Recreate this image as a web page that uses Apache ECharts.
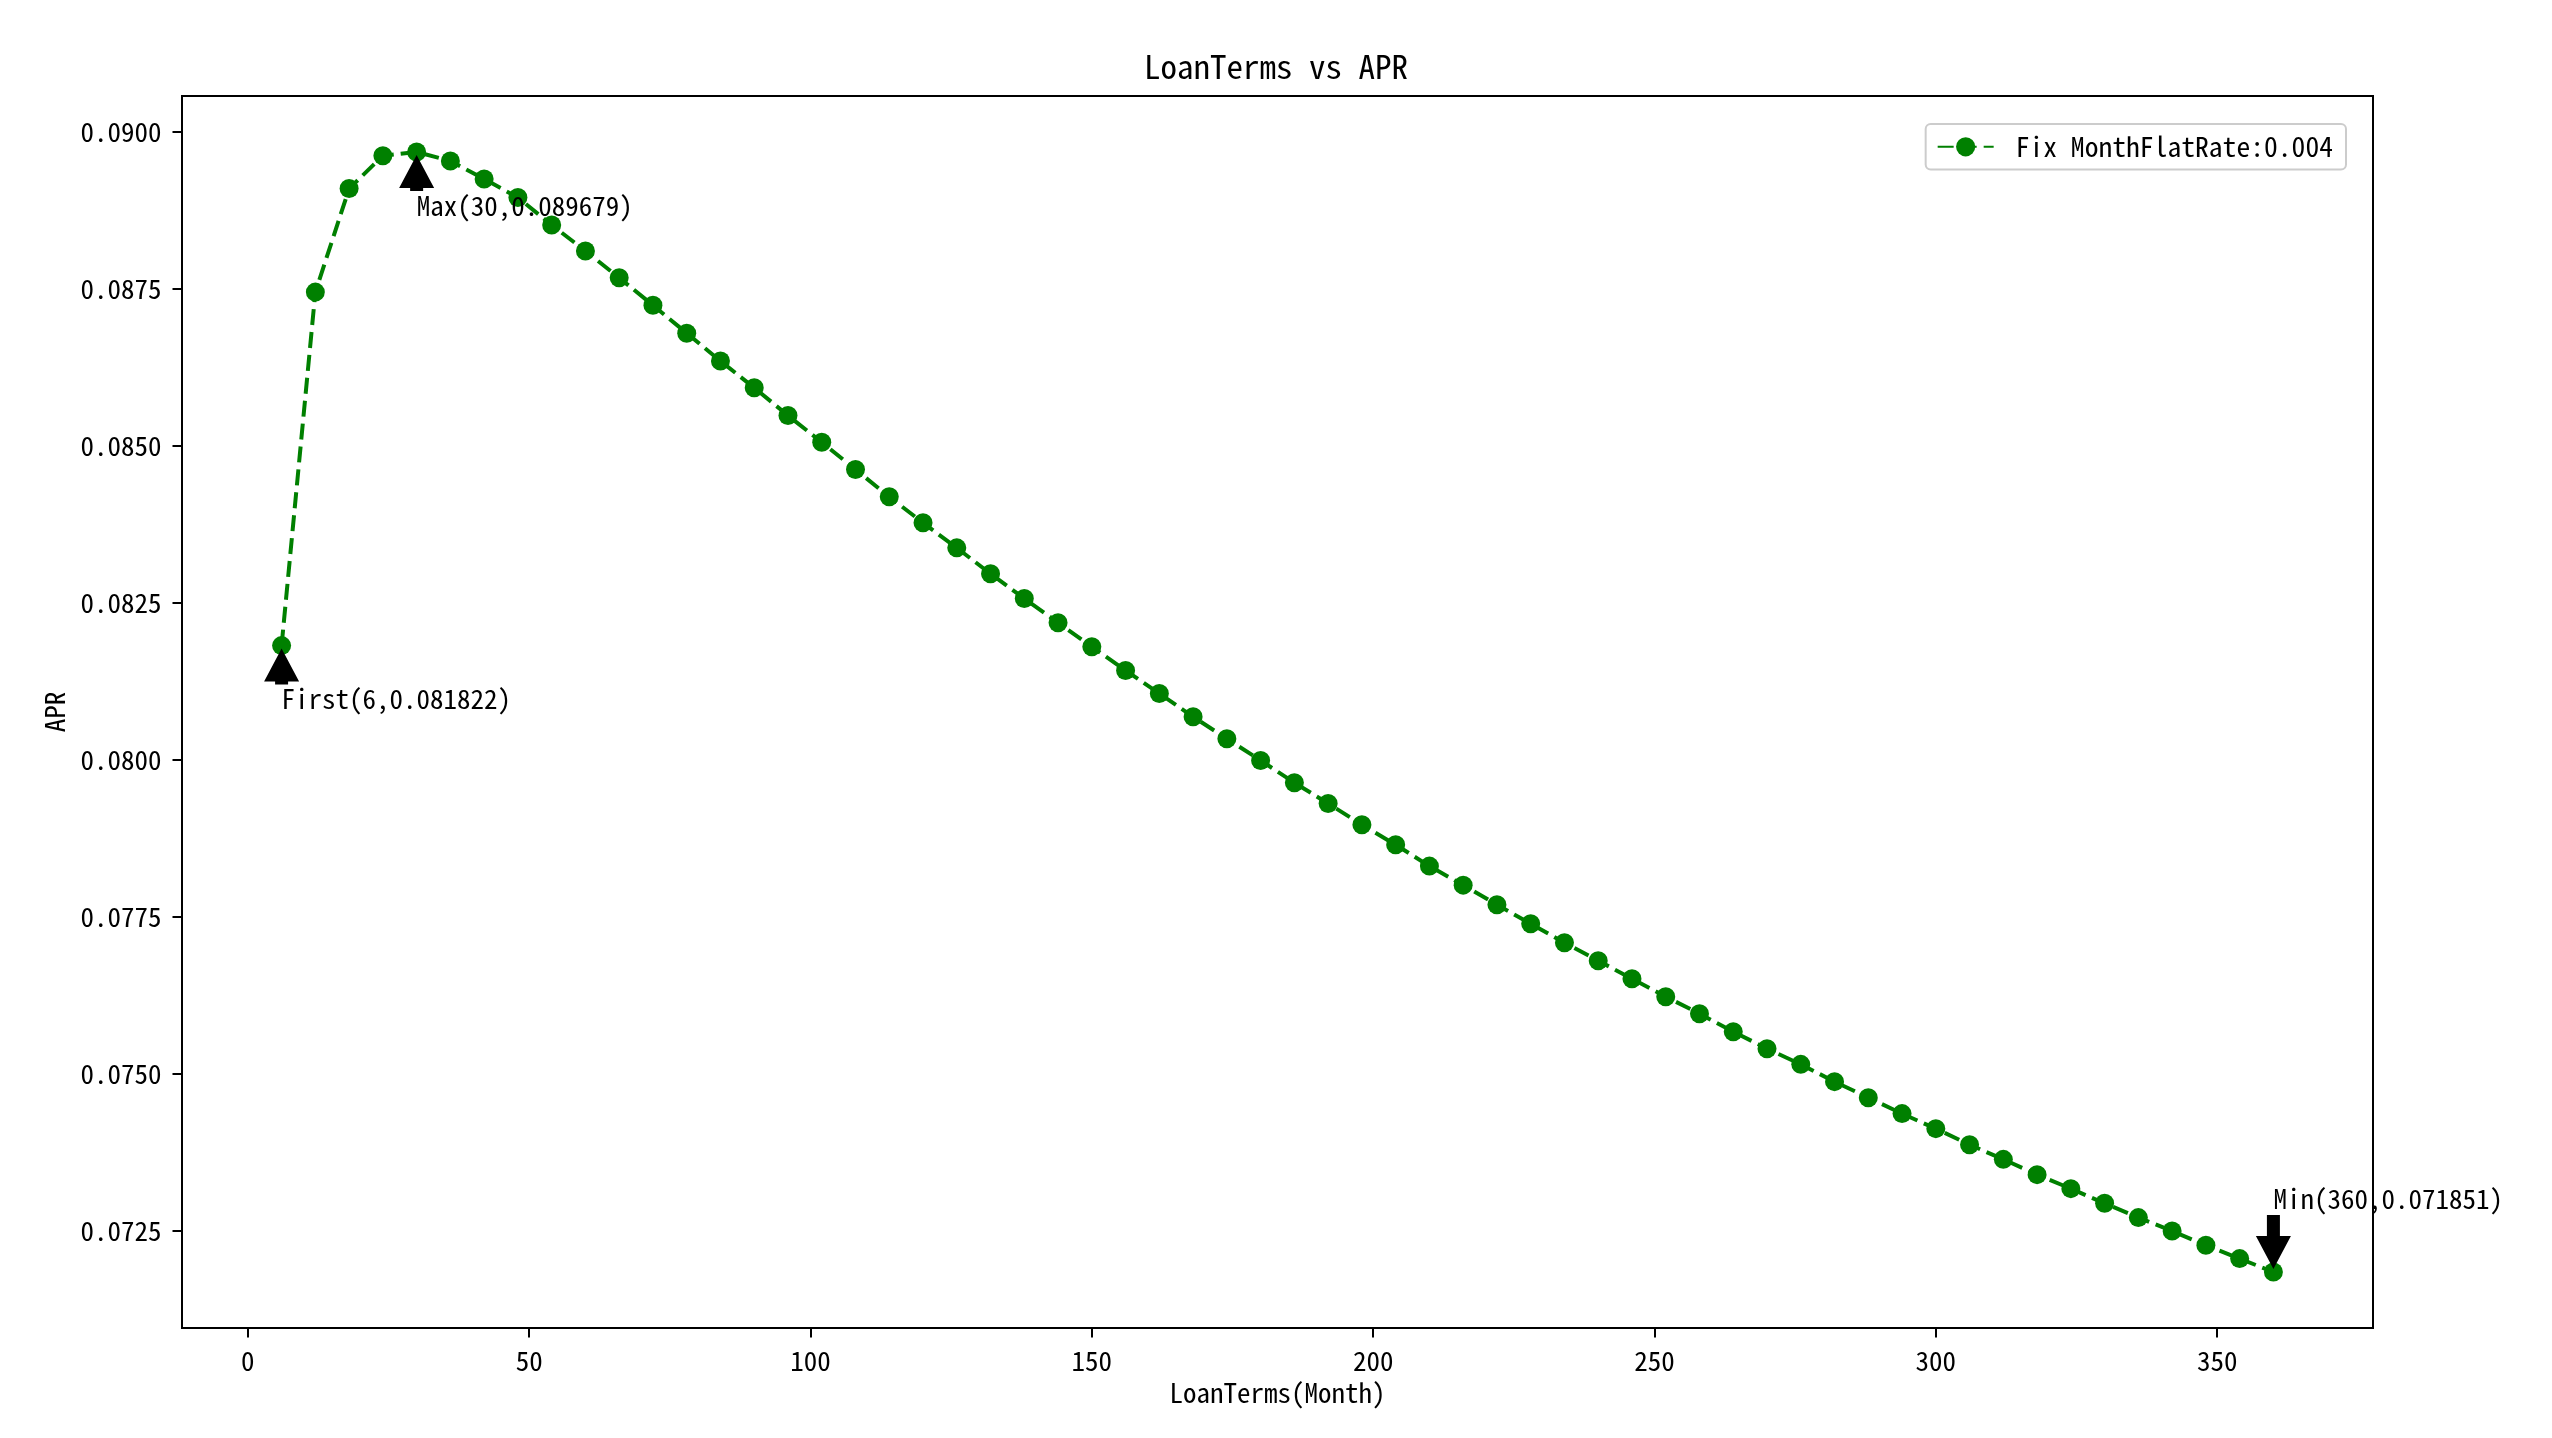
<!DOCTYPE html>
<html><head><meta charset="utf-8">
<script src="https://cdn.jsdelivr.net/npm/echarts@6/dist/echarts.min.js"></script>
<style>html,body{margin:0;padding:0;background:#fff}#chart{width:2552px;height:1438px}</style>
</head><body><div id="chart"></div>
<script>
// ---- data ----
const months = [6,12,18,24,30,36,42,48,54,60,66,72,78,84,90,96,102,108,114,120,126,132,138,144,150,156,162,168,174,180,186,192,198,204,210,216,222,228,234,240,246,252,258,264,270,276,282,288,294,300,306,312,318,324,330,336,342,348,354,360];
const apr = [0.081822,0.087449,0.089097,0.089619,0.089679,0.089535,0.089250,0.088954,0.088517,0.088103,0.087676,0.087239,0.086795,0.086352,0.085926,0.085484,0.085059,0.084624,0.084190,0.083776,0.083378,0.082965,0.082572,0.082185,0.081803,0.081426,0.081060,0.080689,0.080339,0.079994,0.079639,0.079309,0.078970,0.078652,0.078312,0.078009,0.077697,0.077395,0.077093,0.076806,0.076520,0.076233,0.075963,0.075676,0.075406,0.075156,0.074881,0.074626,0.074372,0.074133,0.073878,0.073644,0.073401,0.073178,0.072944,0.072717,0.072503,0.072276,0.072064,0.071851];
const seriesName = 'Fix MonthFlatRate:0.004';
const titleText = 'LoanTerms vs APR';
const xName = 'LoanTerms(Month)';
const yName = 'APR';
const xTicks = [0,50,100,150,200,250,300,350];
const yTicks = [0.0725,0.0750,0.0775,0.0800,0.0825,0.0850,0.0875,0.0900];
const annX = [6, 30, 360];
const annY = [0.081822, 0.089679, 0.071851];
const annText = ['First(6,0.081822)', 'Max(30,0.089679)', 'Min(360,0.071851)'];

// ---- style / layout ----
const FONT = '"Noto Sans Mono CJK SC", "DejaVu Sans Mono", monospace';
const FS = 27;
const annTextBelow = [true, true, false];   // text below point (arrow points up)
const annGap = [40, 40, 60];                 // px from point to near text box edge
const GREEN = '#008000';

const chart = echarts.init(document.getElementById('chart'), null, {renderer: 'canvas'});
const option = {
  animation: false,
  backgroundColor: '#fff',
  title: {
    text: titleText, left: 'center', top: 45,
    textStyle: {fontFamily: FONT, fontSize: 33, fontWeight: 'normal', color: '#000'}
  },
  legend: {
    data: [seriesName], right: 206, top: 124,
    itemWidth: 56, itemHeight: 24,
    padding: [9, 13, 9, 11],
    borderColor: '#cccccc', borderWidth: 2, borderRadius: 5,
    backgroundColor: 'rgba(255,255,255,0.8)',
    textStyle: {fontFamily: FONT, fontSize: 27.6, color: '#000', padding: [0, 0, 0, 17]}
  },
  grid: {left: 182, right: 179, top: 96, bottom: 110, show: true, borderColor: '#000', borderWidth: 2, backgroundColor: 'transparent'},
  xAxis: {
    type: 'value', min: -11.7, max: 377.7,
    name: xName, nameLocation: 'middle', nameGap: 49,
    nameTextStyle: {fontFamily: FONT, fontSize: FS, color: '#000'},
    axisLine: {show: true, onZero: false, lineStyle: {color: '#000', width: 2}},
    axisTick: {show: true, length: 9.5, customValues: xTicks, lineStyle: {color: '#000', width: 2}},
    axisLabel: {customValues: xTicks, fontFamily: FONT, fontSize: FS, color: '#000', margin: 19},
    splitLine: {show: false}
  },
  yAxis: {
    type: 'value', min: 0.0709596, max: 0.0905704,
    name: yName, nameLocation: 'middle', nameGap: 114,
    nameTextStyle: {fontFamily: FONT, fontSize: FS, color: '#000'},
    axisLine: {show: true, onZero: false, lineStyle: {color: '#000', width: 2}},
    axisTick: {show: true, length: 9.5, customValues: yTicks, lineStyle: {color: '#000', width: 2}},
    axisLabel: {customValues: yTicks, fontFamily: FONT, fontSize: FS, color: '#000', margin: 20.5,
      formatter: v => v.toFixed(4)},
    splitLine: {show: false}
  },
  series: [
    {
      name: seriesName, type: 'line',
      data: months.map((m, i) => [m, apr[i]]),
      symbol: 'circle', symbolSize: 19, showSymbol: true,
      itemStyle: {color: GREEN},
      lineStyle: {color: GREEN, width: 4, type: [16, 7]},
      z: 2
    },
    {
      name: 'annotations', type: 'custom', z: 5, clip: false,
      data: annX.map((x, i) => [x, annY[i]]),
      renderItem: function (params, api) {
        const i = params.dataIndex;
        const p = api.coord([api.value(0), api.value(1)]);
        const dir = annTextBelow[i] ? 1 : -1;
        const gap = annGap[i];
        const shrink = 3, headLen = 33, headHalf = 17.5, shaftHalf = 6.5;
        const tip = p[1] + dir * shrink;
        const tail = p[1] + dir * (gap - shrink);
        const base = tip + dir * headLen;
        const x = p[0];
        const tailY = dir > 0 ? Math.max(tail, base + 3) : Math.min(tail, base - 3);
        return {
          type: 'group',
          children: [
            {type: 'polygon', shape: {points: [[x, tip], [x - headHalf, base], [x - shaftHalf, base], [x - shaftHalf, tailY], [x + shaftHalf, tailY], [x + shaftHalf, base], [x + headHalf, base]]},
              style: {fill: '#000'}},
            {type: 'text', x: x, y: p[1] + dir * gap,
              style: {text: annText[i], fill: '#000', font: FS + 'px ' + FONT, align: 'left', verticalAlign: dir > 0 ? 'top' : 'bottom'}}
          ]
        };
      }
    }
  ]
};
chart.setOption(option);
</script></body></html>
